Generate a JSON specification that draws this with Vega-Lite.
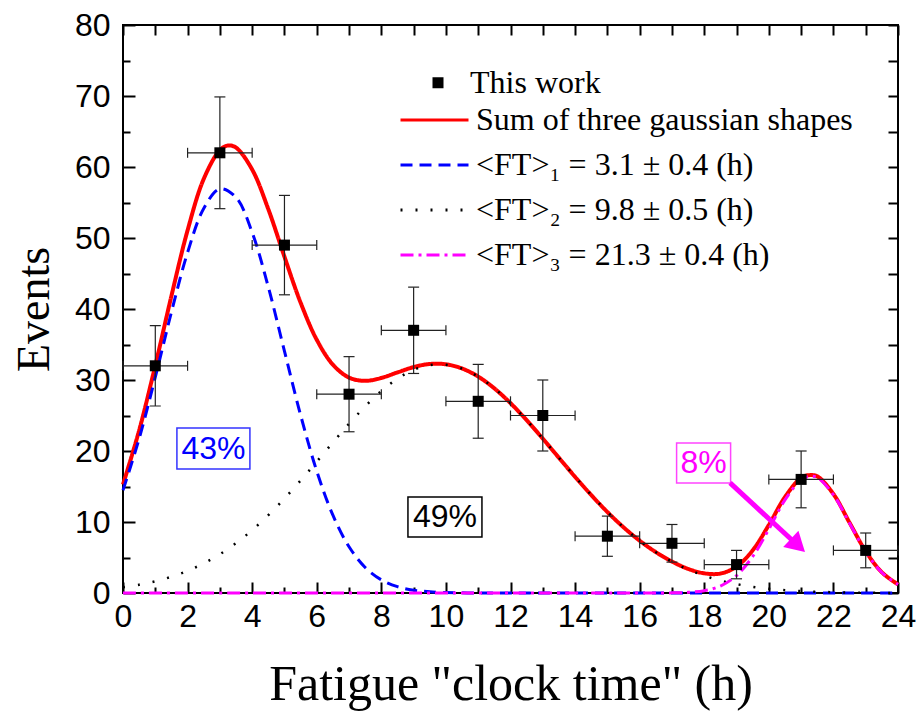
{
  "$schema": "https://vega.github.io/schema/vega-lite/v6.json",
  "width": 775,
  "height": 568,
  "autosize": {"type": "none"},
  "padding": {"left": 123, "top": 25, "right": 23, "bottom": 125},
  "background": "white",
  "config": {
    "view": {"stroke": "black", "strokeWidth": 2},
    "axis": {
      "domain": false, "grid": false,
      "labelFont": "Liberation Sans", "labelFontSize": 32, "labelColor": "black",
      "tickColor": "black", "tickWidth": 2,
      "titleFont": "Liberation Serif", "titleFontWeight": "normal", "titleColor": "black",
      "labelOverlap": false, "labelFlush": false
    }
  },
  "resolve": {"axis": {"x": "independent", "y": "independent"}},
  "datasets": {
    "curves": [
      {"s":"sum","x":0,"y":15.28},{"s":"sum","x":0.5,"y":22.9},{"s":"sum","x":1,"y":32.04},{"s":"sum","x":1.5,"y":41.85},{"s":"sum","x":2,"y":51.08},{"s":"sum","x":2.5,"y":58.32},{"s":"sum","x":3,"y":62.38},{"s":"sum","x":3.25,"y":63.03},{"s":"sum","x":3.5,"y":62.73},{"s":"sum","x":4,"y":59.64},{"s":"sum","x":4.5,"y":54.06},{"s":"sum","x":5,"y":47.36},{"s":"sum","x":5.5,"y":40.9},{"s":"sum","x":6,"y":35.67},{"s":"sum","x":6.5,"y":32.16},{"s":"sum","x":7,"y":30.34},{"s":"sum","x":7.5,"y":29.88},{"s":"sum","x":8,"y":30.29},{"s":"sum","x":8.5,"y":31.07},{"s":"sum","x":9,"y":31.82},{"s":"sum","x":9.5,"y":32.26},{"s":"sum","x":10,"y":32.21},{"s":"sum","x":10.5,"y":31.62},{"s":"sum","x":11,"y":30.48},{"s":"sum","x":11.5,"y":28.82},{"s":"sum","x":12,"y":26.74},{"s":"sum","x":12.5,"y":24.34},{"s":"sum","x":13,"y":21.74},{"s":"sum","x":13.5,"y":19.04},{"s":"sum","x":14,"y":16.36},{"s":"sum","x":14.5,"y":13.8},{"s":"sum","x":15,"y":11.41},{"s":"sum","x":15.5,"y":9.26},{"s":"sum","x":16,"y":7.37},{"s":"sum","x":16.5,"y":5.76},{"s":"sum","x":17,"y":4.43},{"s":"sum","x":17.5,"y":3.4},{"s":"sum","x":18,"y":2.77},{"s":"sum","x":18.5,"y":2.74},{"s":"sum","x":19,"y":3.71},{"s":"sum","x":19.5,"y":6.01},{"s":"sum","x":20,"y":9.58},{"s":"sum","x":20.5,"y":13.51},{"s":"sum","x":21,"y":16.23},{"s":"sum","x":21.25,"y":16.6},{"s":"sum","x":21.5,"y":16.43},{"s":"sum","x":22,"y":13.94},{"s":"sum","x":22.5,"y":9.9},{"s":"sum","x":23,"y":5.88},{"s":"sum","x":23.5,"y":2.91},{"s":"sum","x":24,"y":1.21},
      {"s":"g1","x":0,"y":14.47},{"s":"g1","x":0.5,"y":21.73},{"s":"g1","x":1,"y":30.39},{"s":"g1","x":1.5,"y":39.56},{"s":"g1","x":2,"y":47.96},{"s":"g1","x":2.5,"y":54.15},{"s":"g1","x":3,"y":56.92},{"s":"g1","x":3.5,"y":55.71},{"s":"g1","x":4,"y":50.78},{"s":"g1","x":4.5,"y":43.1},{"s":"g1","x":5,"y":34.06},{"s":"g1","x":5.5,"y":25.06},{"s":"g1","x":6,"y":17.17},{"s":"g1","x":6.5,"y":10.96},{"s":"g1","x":7,"y":6.51},{"s":"g1","x":7.5,"y":3.6},{"s":"g1","x":8,"y":1.85},{"s":"g1","x":8.5,"y":0.89},{"s":"g1","x":9,"y":0.4},{"s":"g1","x":9.5,"y":0.17},{"s":"g1","x":10,"y":0.06},{"s":"g1","x":10.5,"y":0.02},{"s":"g1","x":11,"y":0.01},{"s":"g1","x":12,"y":0},{"s":"g1","x":16,"y":0},{"s":"g1","x":20,"y":0},{"s":"g1","x":24,"y":0},
      {"s":"g2","x":0,"y":0.81},{"s":"g2","x":0.5,"y":1.17},{"s":"g2","x":1,"y":1.65},{"s":"g2","x":1.5,"y":2.29},{"s":"g2","x":2,"y":3.12},{"s":"g2","x":2.5,"y":4.17},{"s":"g2","x":3,"y":5.46},{"s":"g2","x":3.5,"y":7.02},{"s":"g2","x":4,"y":8.86},{"s":"g2","x":4.5,"y":10.96},{"s":"g2","x":5,"y":13.3},{"s":"g2","x":5.5,"y":15.84},{"s":"g2","x":6,"y":18.5},{"s":"g2","x":6.5,"y":21.2},{"s":"g2","x":7,"y":23.83},{"s":"g2","x":7.5,"y":26.28},{"s":"g2","x":8,"y":28.44},{"s":"g2","x":8.5,"y":30.18},{"s":"g2","x":9,"y":31.42},{"s":"g2","x":9.5,"y":32.09},{"s":"g2","x":10,"y":32.15},{"s":"g2","x":10.5,"y":31.6},{"s":"g2","x":11,"y":30.47},{"s":"g2","x":11.5,"y":28.82},{"s":"g2","x":12,"y":26.74},{"s":"g2","x":12.5,"y":24.34},{"s":"g2","x":13,"y":21.74},{"s":"g2","x":13.5,"y":19.04},{"s":"g2","x":14,"y":16.36},{"s":"g2","x":14.5,"y":13.8},{"s":"g2","x":15,"y":11.41},{"s":"g2","x":15.5,"y":9.26},{"s":"g2","x":16,"y":7.37},{"s":"g2","x":16.5,"y":5.75},{"s":"g2","x":17,"y":4.41},{"s":"g2","x":17.5,"y":3.31},{"s":"g2","x":18,"y":2.44},{"s":"g2","x":18.5,"y":1.76},{"s":"g2","x":19,"y":1.25},{"s":"g2","x":19.5,"y":0.87},{"s":"g2","x":20,"y":0.6},{"s":"g2","x":20.5,"y":0.4},{"s":"g2","x":21,"y":0.26},{"s":"g2","x":21.5,"y":0.17},{"s":"g2","x":22,"y":0.11},{"s":"g2","x":22.5,"y":0.07},{"s":"g2","x":23,"y":0.04},{"s":"g2","x":23.5,"y":0.02},{"s":"g2","x":24,"y":0.01},
      {"s":"g3","x":0,"y":0},{"s":"g3","x":4,"y":0},{"s":"g3","x":8,"y":0},{"s":"g3","x":12,"y":0},{"s":"g3","x":16,"y":0},{"s":"g3","x":16.5,"y":0.004},{"s":"g3","x":17,"y":0.02},{"s":"g3","x":17.5,"y":0.09},{"s":"g3","x":18,"y":0.33},{"s":"g3","x":18.5,"y":0.98},{"s":"g3","x":19,"y":2.46},{"s":"g3","x":19.5,"y":5.14},{"s":"g3","x":20,"y":8.98},{"s":"g3","x":20.5,"y":13.11},{"s":"g3","x":21,"y":15.97},{"s":"g3","x":21.25,"y":16.4},{"s":"g3","x":21.5,"y":16.26},{"s":"g3","x":22,"y":13.83},{"s":"g3","x":22.5,"y":9.83},{"s":"g3","x":23,"y":5.84},{"s":"g3","x":23.5,"y":2.89},{"s":"g3","x":24,"y":1.2}
    ],
    "obs": [
      {"x":1,"y":32,"ylo":26.34,"yhi":37.66,"xlo":0,"xhi":2},
      {"x":3,"y":62,"ylo":54.13,"yhi":69.87,"xlo":2,"xhi":4},
      {"x":5,"y":49,"ylo":42,"yhi":56,"xlo":4,"xhi":6},
      {"x":7,"y":28,"ylo":22.71,"yhi":33.29,"xlo":6,"xhi":8},
      {"x":9,"y":37,"ylo":30.92,"yhi":43.08,"xlo":8,"xhi":10},
      {"x":11,"y":27,"ylo":21.8,"yhi":32.2,"xlo":10,"xhi":12},
      {"x":13,"y":25,"ylo":20,"yhi":30,"xlo":12,"xhi":14},
      {"x":15,"y":8,"ylo":5.17,"yhi":10.83,"xlo":14,"xhi":16},
      {"x":17,"y":7,"ylo":4.35,"yhi":9.65,"xlo":16,"xhi":18},
      {"x":19,"y":4,"ylo":2,"yhi":6,"xlo":18,"xhi":20},
      {"x":21,"y":16,"ylo":12,"yhi":20,"xlo":20,"xhi":22},
      {"x":23,"y":6,"ylo":3.55,"yhi":8.45,"xlo":22,"xhi":24}
    ],
    "notes": [
      {"k":"43%","x":2.8,"y":20.35},
      {"k":"49%","x":9.97,"y":10.7},
      {"k":"8%","x":17.98,"y":18.3}
    ],
    "arrow": [{"x":18.8,"y":15.5,"x2":20.9,"y2":6.69}]
  },
  "layer": [
    {
      "data": {"name": "curves"},
      "mark": {"type": "line", "interpolate": "catmull-rom", "clip": false},
      "encoding": {
        "x": {"field": "x", "type": "quantitative", "scale": {"domain": [0, 24], "nice": false, "zero": false},
          "axis": {"orient": "bottom", "values": [0,1,2,3,4,5,6,7,8,9,10,11,12,13,14,15,16,17,18,19,20,21,22,23,24],
            "labelExpr": "datum.value % 2 === 0 ? datum.label : ''",
            "tickSize": {"condition": {"test": "datum.value % 2 === 0", "value": -11}, "value": -6},
            "labelPadding": 19, "title": "Fatigue \"clock time\" (h)", "titleFontSize": 50, "titlePadding": 22}},
        "y": {"field": "y", "type": "quantitative", "scale": {"domain": [0, 80], "nice": false, "zero": false},
          "axis": {"orient": "left", "values": [0,5,10,15,20,25,30,35,40,45,50,55,60,65,70,75,80],
            "labelExpr": "datum.value % 10 === 0 ? datum.label : ''",
            "tickSize": {"condition": {"test": "datum.value % 10 === 0", "value": -12}, "value": -7},
            "labelPadding": 25, "title": "Events", "titleFontSize": 46, "titlePadding": 16}},
        "color": {"field": "s", "type": "nominal",
          "scale": {"domain": ["sum", "g1", "g2", "g3"], "range": ["#ff0000", "#0000ff", "#000000", "#ff00ff"]},
          "legend": {"orient": "none", "legendX": 276, "legendY": 72.6, "title": null, "direction": "vertical",
            "symbolType": "stroke", "symbolSize": 4624, "symbolStrokeWidth": 3,
            "labelFont": "Liberation Serif", "labelFontSize": 32, "labelColor": "black", "labelLimit": 700,
            "labelOffset": 6, "clipHeight": 44.7, "rowPadding": 0, "padding": 0,
            "labelExpr": "datum.label === 'sum' ? 'Sum of three gaussian shapes' : datum.label === 'g1' ? '<FT>₁ = 3.1 ± 0.4 (h)' : datum.label === 'g2' ? '<FT>₂ = 9.8 ± 0.5 (h)' : '<FT>₃ = 21.3 ± 0.4 (h)'"}},
        "strokeDash": {"field": "s", "type": "nominal",
          "scale": {"domain": ["sum", "g1", "g2", "g3"], "range": [[1, 0], [12, 7], [2, 13], [13, 5, 3, 5]]},
          "legend": {"orient": "none", "legendX": 276, "legendY": 72.6, "title": null, "direction": "vertical",
            "symbolType": "stroke", "symbolSize": 4624, "symbolStrokeWidth": 3,
            "labelFont": "Liberation Serif", "labelFontSize": 32, "labelColor": "black", "labelLimit": 700,
            "labelOffset": 6, "clipHeight": 44.7, "rowPadding": 0, "padding": 0,
            "labelExpr": "datum.label === 'sum' ? 'Sum of three gaussian shapes' : datum.label === 'g1' ? '<FT>₁ = 3.1 ± 0.4 (h)' : datum.label === 'g2' ? '<FT>₂ = 9.8 ± 0.5 (h)' : '<FT>₃ = 21.3 ± 0.4 (h)'"}},
        "strokeWidth": {"condition": [{"test": "datum.s === 'sum'", "value": 4}, {"test": "datum.s === 'g2'", "value": 2.5}], "value": 3}
      }
    },
    {
      "data": {"name": "obs"},
      "mark": {"type": "rule", "color": "#222222", "strokeWidth": 1.2},
      "encoding": {
        "x": {"field": "x", "type": "quantitative",
          "axis": {"orient": "top", "values": [0,1,2,3,4,5,6,7,8,9,10,11,12,13,14,15,16,17,18,19,20,21,22,23,24], "labels": false, "tickSize": -10, "title": null}},
        "y": {"field": "ylo", "type": "quantitative",
          "axis": {"orient": "right", "values": [0,5,10,15,20,25,30,35,40,45,50,55,60,65,70,75,80], "labels": false, "tickSize": -10, "title": null}},
        "y2": {"field": "yhi"}
      }
    },
    {
      "data": {"name": "obs"},
      "mark": {"type": "rule", "color": "#222222", "strokeWidth": 1.2},
      "encoding": {
        "x": {"field": "xlo", "type": "quantitative", "axis": null},
        "x2": {"field": "xhi"},
        "y": {"field": "y", "type": "quantitative", "axis": null}
      }
    },
    {
      "data": {"name": "obs"},
      "mark": {"type": "tick", "orient": "horizontal", "size": 11, "thickness": 1.2, "color": "#222222", "opacity": 1},
      "encoding": {
        "x": {"field": "x", "type": "quantitative", "axis": null},
        "y": {"field": "ylo", "type": "quantitative", "axis": null}
      }
    },
    {
      "data": {"name": "obs"},
      "mark": {"type": "tick", "orient": "horizontal", "size": 11, "thickness": 1.2, "color": "#222222", "opacity": 1},
      "encoding": {
        "x": {"field": "x", "type": "quantitative", "axis": null},
        "y": {"field": "yhi", "type": "quantitative", "axis": null}
      }
    },
    {
      "data": {"name": "obs"},
      "mark": {"type": "tick", "orient": "vertical", "size": 10, "thickness": 1.2, "color": "#222222", "opacity": 1},
      "encoding": {
        "x": {"field": "xlo", "type": "quantitative", "axis": null},
        "y": {"field": "y", "type": "quantitative", "axis": null}
      }
    },
    {
      "data": {"name": "obs"},
      "mark": {"type": "tick", "orient": "vertical", "size": 10, "thickness": 1.2, "color": "#222222", "opacity": 1},
      "encoding": {
        "x": {"field": "xhi", "type": "quantitative", "axis": null},
        "y": {"field": "y", "type": "quantitative", "axis": null}
      }
    },
    {
      "data": {"name": "obs"},
      "mark": {"type": "point", "filled": true, "size": 121, "color": "black", "opacity": 1},
      "encoding": {
        "x": {"field": "x", "type": "quantitative", "axis": null},
        "y": {"field": "y", "type": "quantitative", "axis": null},
        "shape": {"datum": "This work", "type": "nominal", "scale": {"range": ["square"]},
          "legend": {"orient": "none", "legendX": 299, "legendY": 41.7, "title": null,
            "symbolSize": 121, "symbolFillColor": "black", "symbolStrokeColor": "black", "symbolStrokeWidth": 0,
            "labelFont": "Liberation Serif", "labelFontSize": 32, "labelColor": "black", "labelLimit": 500,
            "labelOffset": 16, "clipHeight": 32, "padding": 0}}
      }
    },
    {
      "data": {"name": "notes"},
      "transform": [{"filter": "datum.k === '43%'"}],
      "mark": {"type": "point", "shape": "M-1,-0.56H1V0.56H-1Z", "size": 5329, "filled": true, "fill": "white", "stroke": "#3333ff", "strokeWidth": 1.5, "opacity": 1},
      "encoding": {
        "x": {"field": "x", "type": "quantitative", "axis": null},
        "y": {"field": "y", "type": "quantitative", "axis": null}
      }
    },
    {
      "data": {"name": "notes"},
      "transform": [{"filter": "datum.k === '49%'"}],
      "mark": {"type": "point", "shape": "M-1,-0.54H1V0.54H-1Z", "size": 5476, "filled": true, "fill": "white", "stroke": "#000000", "strokeWidth": 1.5, "opacity": 1},
      "encoding": {
        "x": {"field": "x", "type": "quantitative", "axis": null},
        "y": {"field": "y", "type": "quantitative", "axis": null}
      }
    },
    {
      "data": {"name": "notes"},
      "transform": [{"filter": "datum.k === '8%'"}],
      "mark": {"type": "point", "shape": "M-1,-0.74H1V0.74H-1Z", "size": 2916, "filled": true, "fill": "white", "stroke": "#ff44ff", "strokeWidth": 1.5, "opacity": 1},
      "encoding": {
        "x": {"field": "x", "type": "quantitative", "axis": null},
        "y": {"field": "y", "type": "quantitative", "axis": null}
      }
    },
    {
      "data": {"name": "notes"},
      "mark": {"type": "text", "font": "Liberation Sans", "fontSize": 32, "align": "center", "baseline": "middle"},
      "encoding": {
        "x": {"field": "x", "type": "quantitative", "axis": null},
        "y": {"field": "y", "type": "quantitative", "axis": null},
        "text": {"field": "k"},
        "color": {"condition": [{"test": "datum.k === '43%'", "value": "#0000ff"}, {"test": "datum.k === '8%'", "value": "#ff00ff"}], "value": "#000000"}
      }
    },
    {
      "data": {"name": "arrow"},
      "mark": {"type": "rule", "color": "#ff00ff", "strokeWidth": 5},
      "encoding": {
        "x": {"field": "x", "type": "quantitative", "axis": null},
        "y": {"field": "y", "type": "quantitative", "axis": null},
        "x2": {"field": "x2"},
        "y2": {"field": "y2"}
      }
    },
    {
      "data": {"name": "arrow"},
      "mark": {"type": "point", "shape": "triangle-up", "angle": 133, "size": 500, "filled": true, "color": "#ff00ff", "opacity": 1},
      "encoding": {
        "x": {"field": "x2", "type": "quantitative", "axis": null},
        "y": {"field": "y2", "type": "quantitative", "axis": null}
      }
    }
  ]
}
